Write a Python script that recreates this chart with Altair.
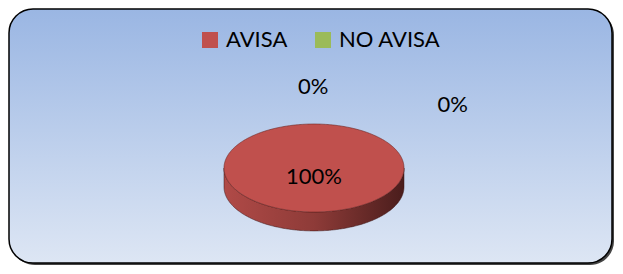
import altair as alt
import pandas as pd
import numpy as np

# ---- data ----
legend_categories = ["AVISA", "NO AVISA"]
legend_colors = ["#C0504D", "#9BBB59"]
slice_names = ["AVISA", "NO AVISA", ""]
slice_values = [100, 0, 0]

# ---- derived tables ----
total = float(sum(slice_values))
shares = [v / total for v in slice_values]
pct_labels = [f"{round(s * 100)}%" for s in shares]

# 3D pie geometry (unit ellipse), only the full AVISA slice has area
DEPTH = 0.43
t = np.linspace(0, np.pi, 241)
top_rows, side_rows = [], []
for name, share in zip(slice_names, shares):
    if share >= 0.999:
        for tt in t:
            top_rows.append({"cat": name, "x": np.cos(tt), "y": np.sin(tt), "y2": -np.sin(tt)})
            side_rows.append({"x": np.cos(tt), "y": -np.sin(tt), "y2": -np.sin(tt) - DEPTH})
top_df = pd.DataFrame(top_rows)
side_df = pd.DataFrame(side_rows)

# label anchor points (layout, in ellipse units)
label_pos = [(0.0, -0.2), (-0.01, 1.84), (1.54, 1.43)]
label_df = pd.DataFrame({
    "text": pct_labels,
    "x": [p[0] for p in label_pos],
    "y": [p[1] for p in label_pos],
})

W, H = 607, 258
xs = alt.Scale(domain=[-306 / 90, (W - 306) / 90], nice=False, zero=False)
ys = alt.Scale(domain=[-(H - 160) / 44, 160 / 44], nice=False, zero=False)

one = pd.DataFrame({"a": [0]})

shadow = alt.Chart(one).mark_rect(cornerRadius=24, fill="#444444").encode(
    x=alt.value(3), x2=alt.value(606), y=alt.value(3), y2=alt.value(257)
)
frame = alt.Chart(one).mark_rect(
    cornerRadius=24,
    stroke="black",
    strokeWidth=1.5,
    fill=alt.Gradient(
        gradient="linear",
        x1=0, y1=0, x2=0, y2=1,
        stops=[alt.GradientStop(color="#9AB6E3", offset=0),
               alt.GradientStop(color="#DDE6F4", offset=1)],
    ),
).encode(x=alt.value(1), x2=alt.value(604), y=alt.value(1), y2=alt.value(255))

side = alt.Chart(side_df).mark_area(
    stroke="#3a1514",
    strokeWidth=0.5,
    fill=alt.Gradient(
        gradient="linear",
        x1=0, y1=0, x2=1, y2=0,
        stops=[alt.GradientStop(color="#B04A47", offset=0),
               alt.GradientStop(color="#8E3B38", offset=0.5),
               alt.GradientStop(color="#4A1D1C", offset=1)],
    ),
).encode(
    x=alt.X("x:Q", scale=xs, axis=None),
    y=alt.Y("y:Q", scale=ys, axis=None),
    y2="y2:Q",
)

top = alt.Chart(top_df).mark_area(stroke="#6b2624", strokeWidth=0.6, opacity=1).encode(
    x=alt.X("x:Q", scale=xs, axis=None),
    y=alt.Y("y:Q", scale=ys, axis=None),
    y2="y2:Q",
    color=alt.Color(
        "cat:N",
        scale=alt.Scale(domain=legend_categories, range=legend_colors),
        legend=alt.Legend(
            orient="none", legendX=191, legendY=21, direction="horizontal",
            title=None, symbolType="square", symbolSize=256, symbolStrokeWidth=0,
            labelFont="Lato", labelFontSize=22, labelColor="black",
            labelOffset=5, columnPadding=24, padding=0,
        ),
    ),
)

labels = alt.Chart(label_df).mark_text(
    font="Lato", fontSize=22, color="black", align="center", baseline="middle"
).encode(
    x=alt.X("x:Q", scale=xs, axis=None),
    y=alt.Y("y:Q", scale=ys, axis=None),
    text="text:N",
)

chart = alt.layer(shadow, frame, side, top, labels).properties(
    width=W, height=H, padding=0, autosize="none", background="white"
).configure_view(stroke=None)

chart.save("out.html", embed_options={"renderer": "svg", "actions": False})
